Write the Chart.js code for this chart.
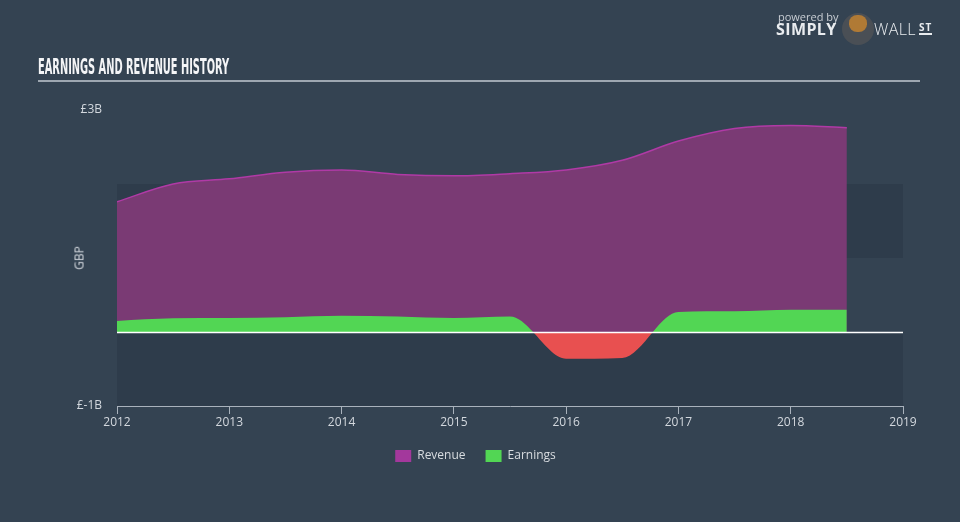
<!DOCTYPE html>
<html>
<head>
<meta charset="utf-8">
<script src="https://cdn.jsdelivr.net/npm/chart.js@4/dist/chart.umd.min.js"></script>
<style>
  html, body { margin: 0; padding: 0; background: #344352; }
  #wrap { position: relative; width: 960px; height: 522px; overflow: hidden; }
  #chart { position: absolute; left: 0; top: 0; }
  .txt { position: absolute; white-space: nowrap; }
  #title { left: 38px; top: 57px; font: bold 21px/20px "Liberation Sans Narrow", "DejaVu Sans Condensed", sans-serif;
           color: #f4f5f7; transform-origin: 0 0; }
  #rule { position: absolute; left: 38px; top: 80px; width: 882px; height: 2px; background: #9ea7b1; }
  #gbp { left: 79px; top: 258px; font: 12px "Open Sans", sans-serif; color: #d3d8de;
         transform: translate(-50%, -50%) rotate(-90deg); }
  #pow { left: 778px; top: 9px; font: 11px "Open Sans", sans-serif; color: #c9ced4; }
  #simply { left: 776px; top: 20px; font: bold 16px/18px "Open Sans", sans-serif; color: #e9ecef; letter-spacing: 0.4px; }
  #wall { left: 874px; top: 20px; font: 300 16px/18px "Open Sans", sans-serif; color: #e9ecef; letter-spacing: 0.4px; }
  #st { left: 919px; top: 21px; font: bold 10px/12px "Open Sans", sans-serif; color: #e9ecef; letter-spacing: 1px;
        border-bottom: 2px solid #e9ecef; }
  #bull { position: absolute; left: 842px; top: 13px; width: 32px; height: 32px; border-radius: 50%; background: #4a4f55; }
  #bull div { position: absolute; left: 7px; top: 2px; width: 18px; height: 17px; border-radius: 45%; background: #b07a35; }
</style>
</head>
<body>
<div id="wrap">
  <canvas id="chart" width="960" height="522"></canvas>
  <div id="title" class="txt">EARNINGS AND REVENUE HISTORY</div>
  <div id="rule"></div>
  <div id="gbp" class="txt">GBP</div>
  <div id="pow" class="txt">powered by</div>
  <div id="simply" class="txt">SIMPLY</div>
  <div id="bull"><div></div></div>
  <div id="wall" class="txt">WALL</div>
  <div id="st" class="txt">ST</div>
</div>
<script>
// half-year points, values in GBP billions
const years = [2012, 2012.5, 2013, 2013.5, 2014, 2014.5, 2015, 2015.5, 2016, 2016.5, 2017, 2017.5, 2018, 2018.5];
const revenue = [1.76, 2.00, 2.07, 2.16, 2.19, 2.13, 2.11, 2.14, 2.19, 2.32, 2.58, 2.75, 2.79, 2.76];
const earnings = [0.15, 0.185, 0.19, 0.20, 0.22, 0.21, 0.19, 0.21, -0.36, -0.35, 0.27, 0.28, 0.30, 0.30];
const yTickLabels = { '3': '£3B', '-1': '£-1B' };
const darkBands = [[-1, 0], [1, 2]];

// fit title to its width
const title = document.getElementById('title');
title.style.transform = 'scaleX(' + (191 / title.offsetWidth) + ')';

const bands = {
    id: 'bands',
    afterLayout(chart) {
        // legend sits a bit right of centre in the original
        chart.legend.left += 24;
        chart.legend.right += 24;
    },
    beforeDatasetsDraw(chart) {
        const { ctx, chartArea, scales: { y } } = chart;
        ctx.save();
        ctx.fillStyle = '#2e3c4b';
        darkBands.forEach(b => {
            const top = y.getPixelForValue(b[1]);
            const bottom = y.getPixelForValue(b[0]);
            ctx.fillRect(chartArea.left, top, chartArea.right - chartArea.left, bottom - top);
        });
        ctx.restore();
    },
    afterDatasetsDraw(chart) {
        const { ctx, chartArea, scales: { y } } = chart;
        const zero = Math.round(y.getPixelForValue(0)) + 0.5;
        ctx.save();
        ctx.strokeStyle = '#ffffff';
        ctx.lineWidth = 1.5;
        ctx.beginPath();
        ctx.moveTo(chartArea.left, zero);
        ctx.lineTo(chartArea.right, zero);
        ctx.stroke();
        ctx.restore();
    }
};

const font = { family: '"Open Sans", sans-serif', size: 12 };

new Chart(document.getElementById('chart'), {
    type: 'line',
    data: {
        datasets: [{
            label: 'Earnings',
            data: years.map((x, i) => ({ x: x, y: earnings[i] })),
            borderWidth: 0,
            borderColor: '#52d654',
            backgroundColor: '#52d654',
            fill: { target: 'origin', above: '#52d654', below: '#e85050' },
            pointRadius: 0,
            cubicInterpolationMode: 'monotone'
        }, {
            label: 'Revenue',
            data: years.map((x, i) => ({ x: x, y: revenue[i] })),
            borderWidth: 1.5,
            borderColor: '#b03aa6',
            backgroundColor: '#7a3a74',
            fill: 'origin',
            pointRadius: 0,
            cubicInterpolationMode: 'monotone'
        }]
    },
    options: {
        responsive: false,
        animation: false,
        layout: { padding: { top: 110, left: 0, right: 57, bottom: 50 } },
        scales: {
            x: {
                type: 'linear',
                min: 2012,
                max: 2019,
                ticks: { stepSize: 1, color: '#d3d8de', font: font, padding: 1, maxRotation: 0,
                         callback: v => String(v) },
                grid: { drawOnChartArea: false, drawTicks: true, tickLength: 8, color: '#a9b2bc' },
                border: { color: '#a9b2bc', width: 1 },
                afterFit: s => { s.height = 24; }
            },
            y: {
                min: -1,
                max: 3,
                ticks: { stepSize: 1, color: '#d3d8de', font: font, padding: 7,
                         callback: v => yTickLabels[String(v)] || '' },
                grid: { display: false },
                border: { display: false },
                afterFit: s => { s.width = 117; }
            }
        },
        plugins: {
            legend: {
                position: 'bottom',
                reverse: true,
                labels: {
                    color: '#d8dce0',
                    font: font,
                    boxWidth: 16,
                    boxHeight: 12,
                    padding: 20,
                    generateLabels(chart) {
                        const items = Chart.defaults.plugins.legend.labels.generateLabels(chart);
                        items.forEach(it => {
                            it.lineWidth = 0;
                            it.fillStyle = it.text === 'Revenue' ? '#a3389c' : '#52d654';
                        });
                        return items;
                    }
                }
            },
            tooltip: { enabled: false }
        }
    },
    plugins: [bands]
});
</script>
</body>
</html>
